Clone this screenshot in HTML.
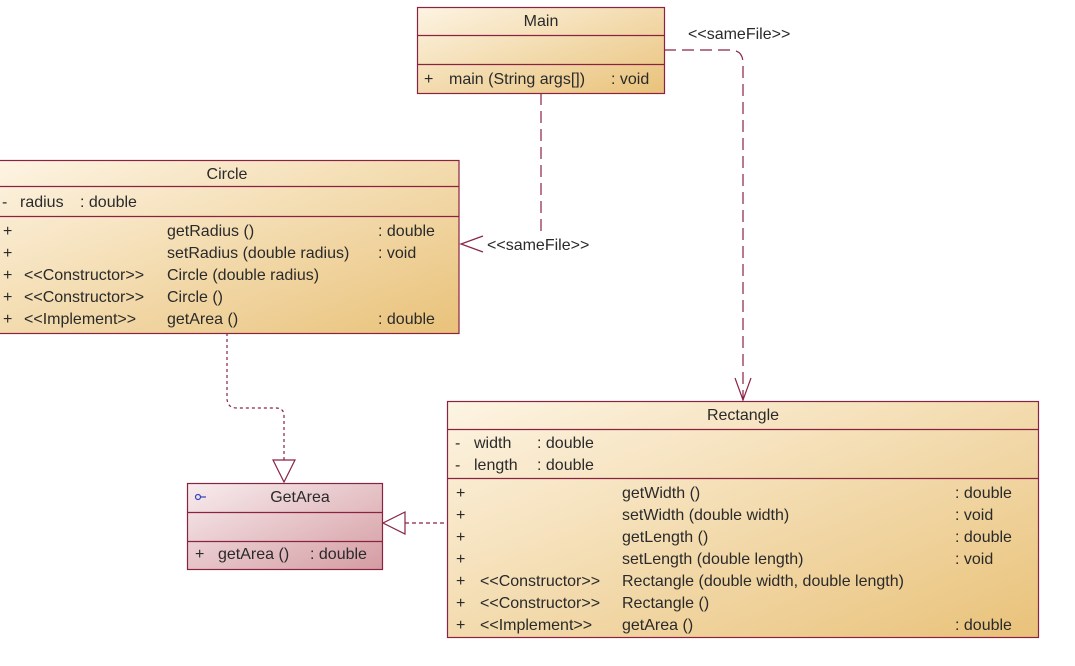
<!DOCTYPE html>
<html><head><meta charset="utf-8"><style>
body{margin:0;background:#fff;}
svg{display:block;font-family:"Liberation Sans",Arial,sans-serif;font-size:16px;fill:#2a2a2a;}
</style></head><body>
<svg width="1075" height="666" viewBox="0 0 1075 666">
<defs>
<linearGradient id="g" x1="0" y1="0" x2="1" y2="1"><stop offset="0" stop-color="#fdf4e3"/><stop offset="1" stop-color="#e9c27a"/></linearGradient>
<linearGradient id="p" x1="0" y1="0" x2="1" y2="1"><stop offset="0" stop-color="#f8ecee"/><stop offset="1" stop-color="#d49ca2"/></linearGradient>
</defs>
<g stroke="#8a2340" stroke-width="1.2" fill="none">
<path d="M541 93 V236" stroke-dasharray="12,6"/>
<path d="M483 236 L461 244 L483 252"/>
<path d="M664 50 H730 Q743 50 743 63 V400" stroke-dasharray="12,6"/>
<path d="M735 378 L743 400 L751 378"/>
<path d="M227 333 V398 Q227 408 237 408 H276 Q284 408 284 416 V460" stroke-dasharray="3,3"/>
<path d="M273 460 L295 460 L284 482 Z"/>
<path d="M405 523 H448" stroke-dasharray="4,3"/>
<path d="M405 512 L383 523 L405 534 Z"/>
</g>
<text x="688" y="39">&lt;&lt;sameFile&gt;&gt;</text>
<text x="487" y="250">&lt;&lt;sameFile&gt;&gt;</text>

<g stroke="#8a2340" stroke-width="1.2"><rect x="417.5" y="7.5" width="247" height="86" fill="url(#g)"/><path d="M417 35.5H664M417 64.5H664"/></g>
<text x="541" y="26" text-anchor="middle">Main</text>
<text x="424" y="84">+</text><text x="449" y="84">main (String args[])</text><text x="611" y="84">: void</text>

<g stroke="#8a2340" stroke-width="1.2"><rect x="-1" y="160.5" width="460" height="173" fill="url(#g)"/><path d="M-1 186.5H459M-1 216.5H459"/></g>
<text x="227" y="179" text-anchor="middle">Circle</text>
<text x="2" y="207">-</text><text x="20" y="207">radius</text><text x="80" y="207">: double</text>
<text x="3" y="236">+</text><text x="167" y="236">getRadius ()</text><text x="378" y="236">: double</text>
<text x="3" y="258">+</text><text x="167" y="258">setRadius (double radius)</text><text x="378" y="258">: void</text>
<text x="3" y="280">+</text><text x="24" y="280">&lt;&lt;Constructor&gt;&gt;</text><text x="167" y="280">Circle (double radius)</text>
<text x="3" y="302">+</text><text x="24" y="302">&lt;&lt;Constructor&gt;&gt;</text><text x="167" y="302">Circle ()</text>
<text x="3" y="324">+</text><text x="24" y="324">&lt;&lt;Implement&gt;&gt;</text><text x="167" y="324">getArea ()</text><text x="378" y="324">: double</text>

<g stroke="#8a2340" stroke-width="1.2"><rect x="187.5" y="483.5" width="195" height="86" fill="url(#p)"/><path d="M187 512.5H382M187 541.5H382"/></g>
<circle cx="198" cy="497" r="2.5" fill="none" stroke="#3344bb" stroke-width="1.2"/><path d="M200.5 497H206" stroke="#3344bb" stroke-width="1.2"/>
<text x="300" y="502" text-anchor="middle">GetArea</text>
<text x="195" y="559">+</text><text x="218" y="559">getArea ()</text><text x="310" y="559">: double</text>

<g stroke="#8a2340" stroke-width="1.2"><rect x="447.5" y="401.5" width="591" height="236" fill="url(#g)"/><path d="M447 429.5H1038M447 478.5H1038"/></g>
<text x="743" y="420" text-anchor="middle">Rectangle</text>
<text x="455" y="448">-</text><text x="474" y="448">width</text><text x="537" y="448">: double</text>
<text x="455" y="470">-</text><text x="474" y="470">length</text><text x="537" y="470">: double</text>
<text x="456" y="498">+</text><text x="622" y="498">getWidth ()</text><text x="955" y="498">: double</text>
<text x="456" y="520">+</text><text x="622" y="520">setWidth (double width)</text><text x="955" y="520">: void</text>
<text x="456" y="542">+</text><text x="622" y="542">getLength ()</text><text x="955" y="542">: double</text>
<text x="456" y="564">+</text><text x="622" y="564">setLength (double length)</text><text x="955" y="564">: void</text>
<text x="456" y="586">+</text><text x="480" y="586">&lt;&lt;Constructor&gt;&gt;</text><text x="622" y="586">Rectangle (double width, double length)</text>
<text x="456" y="608">+</text><text x="480" y="608">&lt;&lt;Constructor&gt;&gt;</text><text x="622" y="608">Rectangle ()</text>
<text x="456" y="630">+</text><text x="480" y="630">&lt;&lt;Implement&gt;&gt;</text><text x="622" y="630">getArea ()</text><text x="955" y="630">: double</text>
</svg>
</body></html>
